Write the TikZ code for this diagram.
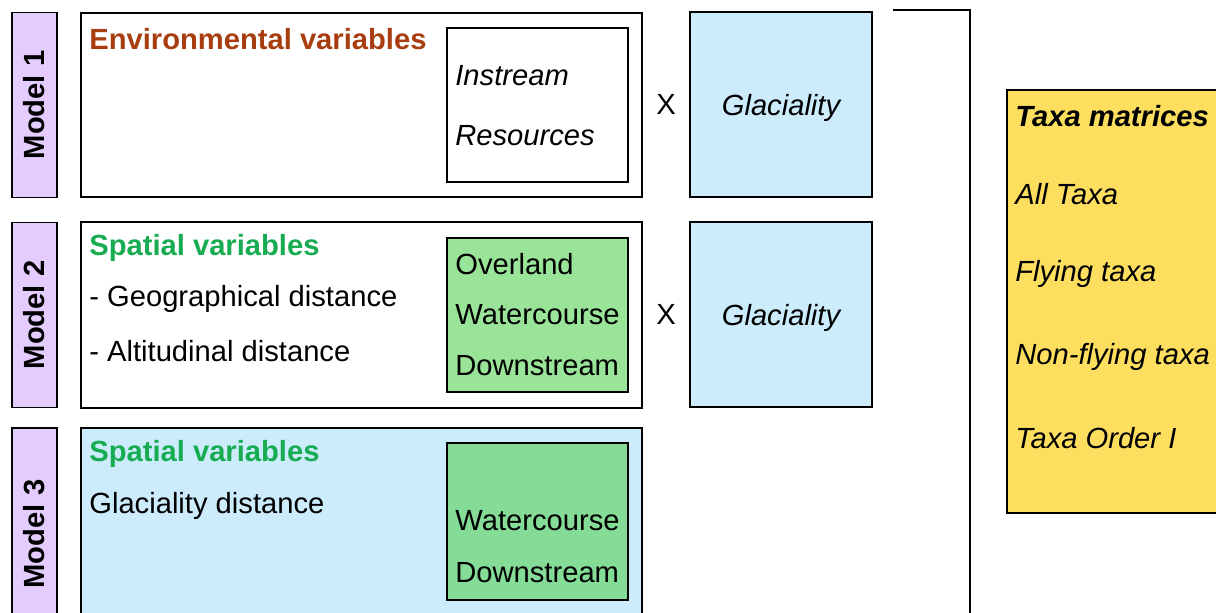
\documentclass[tikz,border=0pt]{standalone}
\usepackage{fontspec}
\setmainfont{Liberation Sans}
\definecolor{lavender}{RGB}{229,204,255}
\definecolor{skyblue}{RGB}{204,236,252}
\definecolor{leafgreen}{RGB}{153,228,153}
\definecolor{mintgreen}{RGB}{132,220,150}
\definecolor{sand}{RGB}{253,222,94}
\definecolor{rust}{RGB}{168,62,16}
\definecolor{grass}{RGB}{24,172,82}
\newcommand{\bodyfont}{\fontsize{16.6}{20}\selectfont}

\begin{document}
\begin{tikzpicture}[
    x=0.02cm, y=-0.02cm,
    model/.style={rectangle, draw, line width=1.1pt, fill=lavender, rotate=90, minimum width=3.7cm, minimum height=0.9cm, font=\bodyfont\bfseries},
    frame/.style={rectangle, draw, line width=1.1pt, minimum width=11.22cm},
    inner/.style={rectangle, draw, line width=1.6pt, minimum width=3.62cm, minimum height=3.08cm},
    glac/.style={rectangle, draw, line width=1.1pt, fill=skyblue, minimum width=3.64cm, minimum height=3.7cm, text depth=0pt, font=\bodyfont\itshape},
    txt/.style={anchor=west, inner sep=0pt, font=\bodyfont},
    head/.style={txt, font=\bodyfont\bfseries},
]
\useasboundingbox (0,0) rectangle (1216,612);
\clip (0,0) rectangle (1216,612);

% model labels
\node[model] (M1) at (34.5,105) {Model 1};
\node[model] (M2) at (34.5,315) {Model 2};
\node[model, minimum width=4.24cm] (M3) at (34.5,534) {Model 3};

% model 1
\node[frame, minimum height=3.68cm] (ENV) at (361.5,105) {};
\node[inner] (INS) at (537.5,105) {};
\node[glac] (GL1) at (781,104.5) {Glaciality};
\node[head, text=rust] (ENVT) at (89,39) {Environmental variables};
\node[txt, font=\bodyfont\itshape] (INST) at (455,76) {Instream};
\node[txt, font=\bodyfont\itshape] (RES) at (455,136) {Resources};
\path (ENV.east) -- (GL1.west) node[midway, font=\bodyfont] (X1) {X};

% model 2
\node[frame, minimum height=3.72cm] (SPA) at (361.5,315) {};
\node[inner, fill=leafgreen] (DIS) at (537.5,315) {};
\node[glac] (GL2) at (781,314.5) {Glaciality};
\node[head, text=grass] (SPAT) at (89,248) {Spatial variables};
\node[txt] (GEO) at (89,299) {- Geographical distance};
\node[txt] (ALT) at (89,351) {- Altitudinal distance};
\node[txt] (OVL) at (455,264) {Overland};
\node[txt] (WAT) at (455,315) {Watercourse};
\node[txt] (DWN) at (455,366) {Downstream};
\path (SPA.east) -- (GL2.west) node[midway, font=\bodyfont] (X2) {X};

% model 3
\node[frame, fill=skyblue, minimum height=4.24cm] (GLD) at (361.5,534) {};
\node[inner, fill=mintgreen, minimum height=3.14cm] (DIS3) at (537.5,521.5) {};
\node[head, text=grass] (SPAT3) at (89,454) {Spatial variables};
\node[txt] (GLDT) at (89,506) {Glaciality distance};
\node[txt] (WAT3) at (455,521) {Watercourse};
\node[txt] (DWN3) at (455,573) {Downstream};

% bracket and taxa
\draw[line width=1.1pt] (893,10) -- (970,10) -- (970,640);
\node[rectangle, draw, line width=1.1pt, fill=sand, minimum width=4.66cm, minimum height=8.46cm] (TAX) at (1123.5,301.5) {};
\node[txt, font=\bodyfont\bfseries\itshape] (TAXT) at (1015,116) {Taxa matrices};
\node[txt, font=\bodyfont\itshape] (ALL) at (1015,194) {All Taxa};
\node[txt, font=\bodyfont\itshape] (FLY) at (1015,274) {Flying taxa};
\node[txt, font=\bodyfont\itshape] (NFLY) at (1015,357) {Non-flying taxa};
\node[txt, font=\bodyfont\itshape] (ORD) at (1015,438) {Taxa Order I};
\end{tikzpicture}
\end{document}
